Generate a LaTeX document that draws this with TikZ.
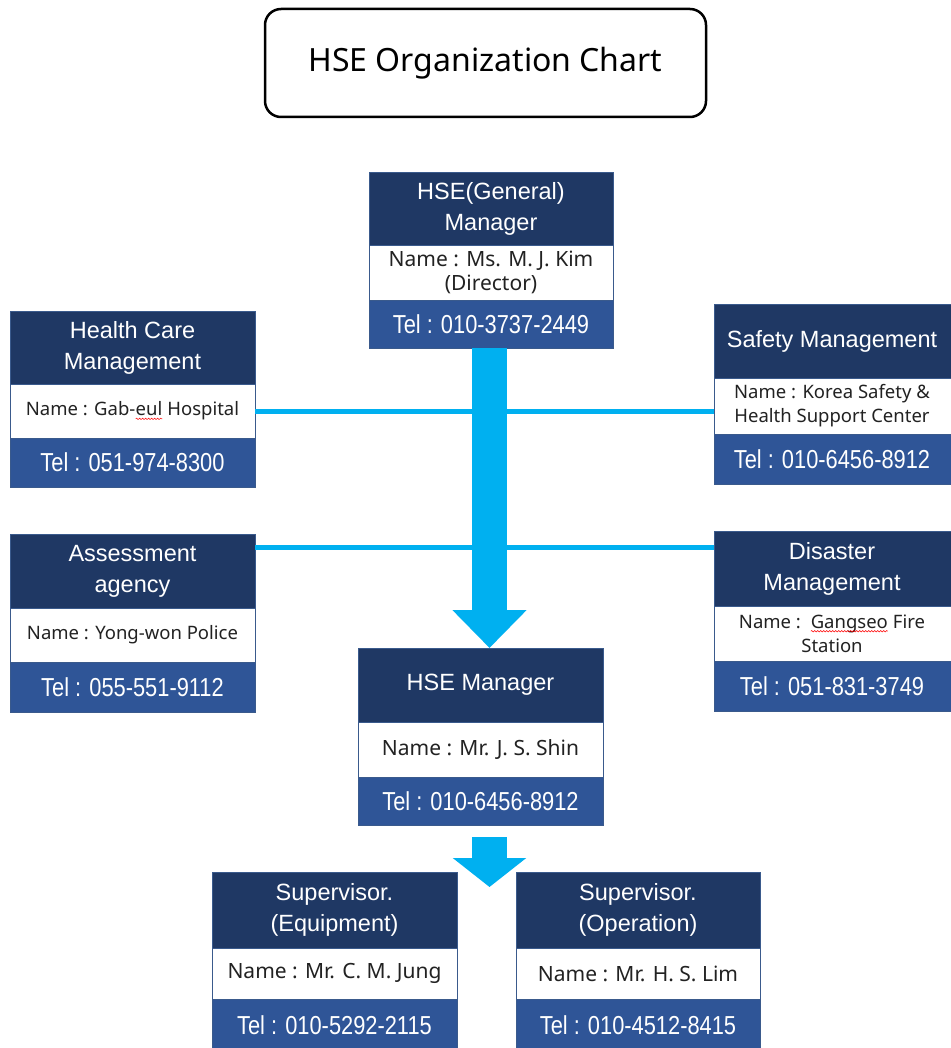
\documentclass[tikz,border=0pt]{standalone}
\usepackage{fontspec}
\setmainfont{Liberation Sans}
\newfontfamily\namefont{Noto Sans}
\newfontfamily\titlefont{Noto Sans}
\newfontfamily\telfont[FakeStretch=0.84]{Liberation Sans}
\usetikzlibrary{arrows.meta,decorations.pathmorphing}
\definecolor{navy}{HTML}{1F3864}
\definecolor{telblue}{HTML}{2F5597}
\definecolor{bordc}{HTML}{3A5A8C}
\definecolor{arrblue}{HTML}{00B0F0}
\definecolor{nametext}{HTML}{222222}
\newcommand\wavy[1]{\tikz[baseline=(w.base)]{\node[inner sep=0pt,outer sep=0pt,minimum width=0pt,minimum height=0pt,draw=none,fill=none,text=nametext,anchor=base](w){#1};\draw[red,line width=0.5pt,decorate,decoration={snake,amplitude=0.7pt,segment length=3pt}]([yshift=-3pt]w.base west)--([yshift=-3pt]w.base east);}}
\tikzset{
  hdr/.style={draw=bordc, fill=navy, text=white, line width=0.8pt, inner sep=0pt, outer sep=0pt,
    align=center, font=\fontsize{23.5}{31}\selectfont},
  nm/.style={draw=bordc, fill=white, text=nametext, line width=0.8pt, inner sep=0pt, outer sep=0pt,
    align=center, font=\namefont\fontsize{18.5}{24}\selectfont},
  nmbig/.style={nm, font=\namefont\fontsize{21}{24}\selectfont},
  tel/.style={draw=bordc, fill=telblue, text=white, line width=0.8pt, inner sep=0pt, outer sep=0pt,
    align=center, font=\telfont\fontsize{26}{30}\selectfont},
  hline/.style={draw=arrblue, line width=5pt},
  bigarrow/.style={draw=arrblue, line width=35pt},
  titlebox/.style={draw=black, line width=2.5pt, rounded corners=16pt, inner sep=0pt,
    minimum width=441pt, minimum height=108pt, font=\titlefont\fontsize{32}{36}\selectfont}
}
\begin{document}
\begin{tikzpicture}[x=1pt,y=-1pt]
\useasboundingbox (0,0) rectangle (950,1048);
\fill[white] (0,0) rectangle (950,1048);

% title
\node[titlebox] (title) at (485.5,63) {HSE Organization Chart};

% General manager
\node[hdr, minimum width=244pt, minimum height=73pt, anchor=north west] (gmh) at (369,172) {HSE(General)\\Manager};
\node[nmbig, minimum width=244pt, minimum height=55pt, anchor=north] (gmn) at (gmh.south) {Name : Ms. M. J. Kim\\(Director)};
\node[tel, minimum width=244pt, minimum height=48pt, anchor=north] (gmt) at (gmn.south) {Tel : 010-3737-2449};

% Health care
\node[hdr, minimum width=245pt, minimum height=73pt, anchor=north west] (hch) at (10,311) {Health Care\\Management};
\node[nm, minimum width=245pt, minimum height=54pt, anchor=north] (hcn) at (hch.south) {Name : Gab-\wavy{eul} Hospital};
\node[tel, minimum width=245pt, minimum height=49pt, anchor=north] (hct) at (hcn.south) {Tel : 051-974-8300};

% Safety
\node[hdr, minimum width=240pt, minimum height=74pt, anchor=north west] (smh) at (714,304) {\hspace*{-4pt}Safety Management};
\node[nm, minimum width=240pt, minimum height=56pt, anchor=north] (smn) at (smh.south) {\hspace*{-4pt}Name : Korea Safety \&\\\hspace*{-4pt}Health Support Center};
\node[tel, minimum width=240pt, minimum height=50pt, anchor=north] (smt) at (smn.south) {\hspace*{-4pt}Tel : 010-6456-8912};

% Assessment
\node[hdr, minimum width=245pt, minimum height=74pt, anchor=north west] (aah) at (10,534) {Assessment\\agency};
\node[nm, minimum width=245pt, minimum height=54pt, anchor=north] (aan) at (aah.south) {Name : Yong-won Police};
\node[tel, minimum width=245pt, minimum height=50pt, anchor=north] (aat) at (aan.south) {Tel : 055-551-9112};

% Disaster
\node[hdr, minimum width=240pt, minimum height=75pt, anchor=north west] (dmh) at (714,531) {\hspace*{-4pt}Disaster\\\hspace*{-4pt}Management};
\node[nm, minimum width=240pt, minimum height=55pt, anchor=north] (dmn) at (dmh.south) {\hspace*{-4pt}Name :\ \ \wavy{Gangseo} Fire\\\hspace*{-4pt}Station};
\node[tel, minimum width=240pt, minimum height=50pt, anchor=north] (dmt) at (dmn.south) {\hspace*{-4pt}Tel : 051-831-3749};

% connectors (behind arrow)
\draw[hline] (hcn.east) -- (hcn.east -| smn.west);
\draw[hline] ([yshift=-13pt]aah.north east) -- ([yshift=-13pt]aah.north east -| dmh.west);

% HSE manager
\node[hdr, minimum width=245pt, minimum height=74pt, anchor=north west] (hmh) at (358,648) {HSE Manager};
\node[nmbig, minimum width=245pt, minimum height=55pt, anchor=north] (hmn) at (hmh.south) {Name : Mr. J. S. Shin};
\node[tel, minimum width=245pt, minimum height=48pt, anchor=north] (hmt) at (hmn.south) {Tel : 010-6456-8912};

% Supervisors
\node[hdr, minimum width=245pt, minimum height=76pt, anchor=north west] (seh) at (212,872) {Supervisor.\\(Equipment)};
\node[nmbig, minimum width=245pt, minimum height=51pt, anchor=north] (sen) at (seh.south) {Name : Mr. C. M. Jung};
\node[tel, minimum width=245pt, minimum height=52pt, anchor=north] (set) at (sen.south) {Tel : 010-5292-2115};

\node[hdr, minimum width=244pt, minimum height=76pt, anchor=north west] (soh) at (516,872) {Supervisor.\\(Operation)};
\node[nmbig, minimum width=244pt, minimum height=51pt, anchor=north] (son) at (soh.south) {Name : Mr. H. S. Lim};
\node[tel, minimum width=244pt, minimum height=52pt, anchor=north] (sot) at (son.south) {Tel : 010-4512-8415};

% big arrows
\draw[bigarrow, -{Triangle[width=72pt,length=38pt]}] ([xshift=-1.5pt]gmt.south) -- ([xshift=-1.5pt]gmt.south |- hmh.north);
\draw[bigarrow, -{Triangle[width=72pt,length=29pt]}] ([xshift=9pt,yshift=-12pt]hmt.south) -- ([xshift=9pt,yshift=-62pt]hmt.south);
\end{tikzpicture}
\end{document}
